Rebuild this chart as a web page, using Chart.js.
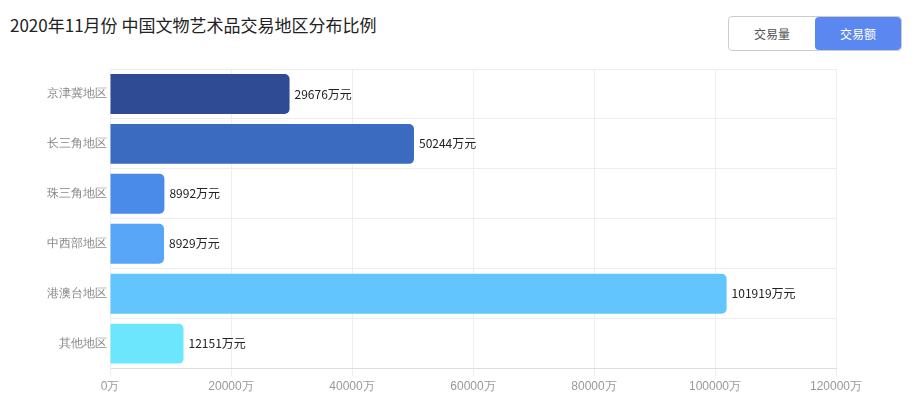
<!DOCTYPE html>
<html><head><meta charset="utf-8">
<script src="https://cdn.jsdelivr.net/npm/chart.js@4"></script>
<style>
body{margin:0;background:#fff;font-family:"Noto Sans CJK SC","Noto Sans",sans-serif}
#wrap{position:relative;width:920px;height:405px}
#title{position:absolute;left:10px;top:12px;font-size:17px;color:#222}
#btns{position:absolute;left:728px;top:16px;width:172px;height:33px;border:1px solid #ccc;border-radius:4px;display:flex;font-size:12px;overflow:hidden}
#btns div{flex:1;display:flex;align-items:center;justify-content:center;color:#555}
#btns .on{background:#5b88f0;color:#fff;border-radius:4px}
canvas{position:absolute;left:0;top:0}
</style></head><body>
<div id="wrap">
<div id="title">2020年11月份 中国文物艺术品交易地区分布比例</div>
<div id="btns"><div>交易量</div><div class="on">交易额</div></div>
<canvas id="c" width="920" height="405"></canvas>
</div>
<script>
const regions = ["京津冀地区", "长三角地区", "珠三角地区", "中西部地区", "港澳台地区", "其他地区"];
const amounts = [29676, 50244, 8992, 8929, 101919, 12151];
const barColors = ["#2e4b94", "#3a6bc1", "#4a8ae9", "#58a6f8", "#62c5fd", "#6be6fd"];

const valueLabels = {
  id: "valueLabels",
  afterDatasetsDraw(chart) {
    const ctx = chart.ctx;
    ctx.save();
    ctx.font = '12px "Noto Sans CJK SC"';
    ctx.fillStyle = "#222";
    ctx.textBaseline = "middle";
    chart.getDatasetMeta(0).data.forEach((bar, i) => {
      ctx.fillText(amounts[i] + "万元", bar.x + 5, bar.y);
    });
    ctx.restore();
  },
};

new Chart(document.getElementById("c"), {
  type: "bar",
  data: {
    labels: regions,
    datasets: [{
      data: amounts,
      backgroundColor: barColors,
      borderRadius: 5,
      borderSkipped: "start",
      barPercentage: 0.8,
      categoryPercentage: 1,
    }],
  },
  options: {
    indexAxis: "y",
    responsive: false,
    animation: false,
    layout: { padding: { top: 69, right: 84, bottom: 8, left: 0 } },
    plugins: { legend: { display: false }, tooltip: { enabled: false } },
    scales: {
      x: {
        min: 0, max: 120000,
        ticks: { stepSize: 20000, color: "#999", font: { size: 12 }, callback: (v) => v + "万" },
        grid: { color: "#eee" },
        border: { color: "#ddd" },
      },
      y: {
        ticks: { color: "#888", font: { size: 12 } },
        grid: { display: true, color: "#eee", drawTicks: false },
        border: { color: "#eee" },
        afterFit(s) { s.width = 110; },
      },
    },
  },
  plugins: [valueLabels],
});
</script>
</body></html>
